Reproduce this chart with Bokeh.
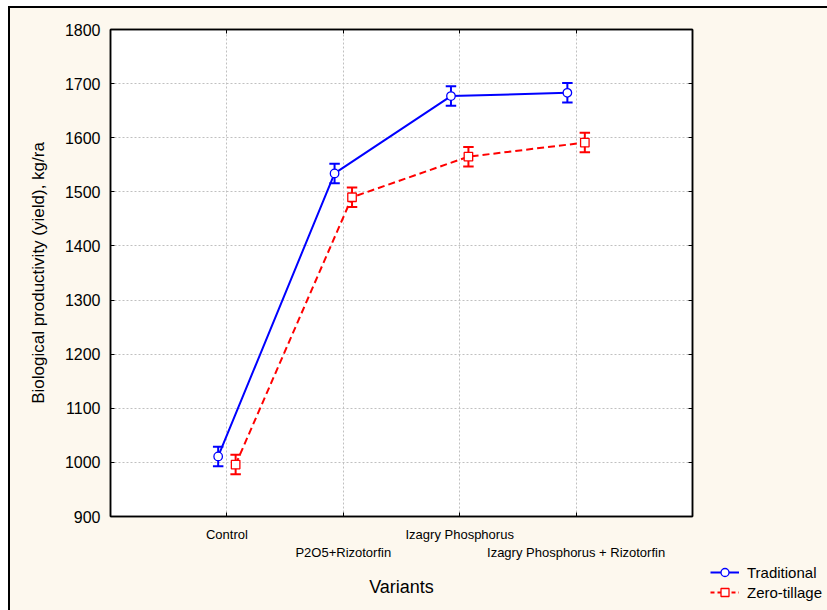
from bokeh.plotting import figure
from bokeh.models import (ColumnDataSource, FixedTicker, LinearAxis, Legend, LegendItem,
                          Range1d, Spacer)
from bokeh.layouts import row, column
from bokeh.embed import file_html
from bokeh.resources import INLINE

categories = ["Control", "P2O5+Rizotorfin", "Izagry Phosphorus", "Izagry Phosphorus + Rizotorfin"]
series_names = ["Traditional", "Zero-tillage"]
traditional = [1011, 1534, 1677, 1683]
traditional_err = [18, 18, 18, 18]
zero_tillage = [996, 1490, 1565, 1591]
zero_tillage_err = [18, 18, 18, 18]
y_ticks = [900, 1000, 1100, 1200, 1300, 1400, 1500, 1600, 1700, 1800]

FONT = "Liberation Sans"
BG = "#FDF8EE"
BLUE = "#0000ff"
RED = "#ff0000"
pos = list(range(1, len(categories) + 1))
OFF = 0.075
CAP = 0.045

p = figure(width=700, height=602, x_range=Range1d(0, 5), y_range=Range1d(900, 1800),
           output_backend="svg", toolbar_location=None,
           min_border_left=100, min_border_right=18, min_border_top=21, min_border_bottom=94,
           background_fill_color="white", border_fill_color=BG)
p.outline_line_color = "black"
p.outline_line_width = 1.5

p.xaxis.ticker = FixedTicker(ticks=pos)
p.xaxis.major_label_overrides = {i: (c if i % 2 == 1 else "\n" + c) for i, c in zip(pos, categories)}
p.yaxis.ticker = FixedTicker(ticks=y_ticks)
for ax in [p.xaxis[0], p.yaxis[0]]:
    ax.major_tick_in = 4
    ax.major_tick_out = 0
    ax.minor_tick_line_color = None
    ax.axis_line_color = "black"
    ax.axis_line_width = 1.5
    ax.major_tick_line_color = "black"
    ax.major_label_text_font = FONT
    ax.axis_label_text_font = FONT
    ax.axis_label_text_font_style = "normal"
    ax.major_label_text_color = "black"
    ax.axis_label_text_color = "black"
p.xaxis.major_label_text_font_size = "13px"
p.xaxis.major_label_standoff = 10
p.xaxis.axis_label = "Variants"
p.xaxis.axis_label_text_font_size = "18px"
p.xaxis.axis_label_standoff = 14
p.yaxis.major_label_text_font_size = "16px"
p.yaxis.major_label_standoff = 10
p.yaxis.axis_label = "Biological productivity (yield), kg/ra"
p.yaxis.axis_label_text_font_size = "17px"
p.yaxis.axis_label_standoff = 14

top = LinearAxis(ticker=FixedTicker(ticks=pos), major_tick_in=4, major_tick_out=0,
                 minor_tick_line_color=None, axis_line_width=1.5,
                 major_label_overrides={t: "" for t in pos})
right = LinearAxis(ticker=FixedTicker(ticks=y_ticks), major_tick_in=4, major_tick_out=0,
                   minor_tick_line_color=None, axis_line_width=1.5,
                   major_label_overrides={t: "" for t in y_ticks})
p.add_layout(top, "above")
p.add_layout(right, "right")

p.xgrid.ticker = FixedTicker(ticks=pos)
p.ygrid.ticker = FixedTicker(ticks=y_ticks)
for g in [p.xgrid[0], p.ygrid[0]]:
    g.grid_line_color = "#c0c0c0"
    g.grid_line_dash = "2 2"
    g.grid_line_width = 1


def make_source(vals, errs, offset):
    x = [i + offset for i in pos]
    lo = [v - e for v, e in zip(vals, errs)]
    hi = [v + e for v, e in zip(vals, errs)]
    return ColumnDataSource(dict(x=x, y=vals, lo=lo, hi=hi,
                                 xl=[xx - CAP for xx in x], xr=[xx + CAP for xx in x]))


def draw(src, color, dash, marker):
    p.line("x", "y", source=src, line_color=color, line_width=2, line_dash=dash)
    p.segment("x", "lo", "x", "hi", source=src, line_color=color, line_width=2)
    p.segment("xl", "lo", "xr", "lo", source=src, line_color=color, line_width=2)
    p.segment("xl", "hi", "xr", "hi", source=src, line_color=color, line_width=2)
    p.scatter("x", "y", source=src, marker=marker, size=8.5, line_color=color,
              line_width=1.3, fill_color="white")


src1 = make_source(traditional, traditional_err, -OFF)
src2 = make_source(zero_tillage, zero_tillage_err, OFF)
draw(src1, BLUE, "solid", "circle")
draw(src2, RED, "7 4", "square")

# legend in its own small panel, below and right of the plot frame;
# its glyph renderers use the series data, which lies outside this panel's ranges
lg = figure(width=117, height=48, x_range=Range1d(0, 1), y_range=Range1d(0, 1),
            output_backend="svg", toolbar_location=None, x_axis_location=None,
            y_axis_location=None, min_border=0, background_fill_color=BG,
            border_fill_color=BG, outline_line_color=None)
lg.grid.visible = False
a1 = lg.line("x", "y", source=src1, line_color=BLUE, line_width=2)
b1 = lg.scatter("x", "y", source=src1, marker="circle", size=8.5, line_color=BLUE,
                line_width=1.3, fill_color="white")
a2 = lg.line("x", "y", source=src2, line_color=RED, line_width=2, line_dash="4 3")
b2 = lg.scatter("x", "y", source=src2, marker="square", size=8.5, line_color=RED,
                line_width=1.3, fill_color="white")
legend = Legend(items=[LegendItem(label=series_names[0], renderers=[a1, b1]),
                       LegendItem(label=series_names[1], renderers=[a2, b2])],
                location="top_left", background_fill_alpha=0, border_line_color=None,
                label_text_font=FONT, label_text_font_size="15px", label_text_color="black",
                glyph_width=29, glyph_height=20, label_height=20, spacing=0, padding=0,
                margin=0, label_standoff=8)
lg.add_layout(legend, "center")

right_col = column(Spacer(height=554, width=117), lg)
inner = row(p, right_col)
inner.styles = {"background-color": BG, "border-top": "2px solid black",
                "border-left": "2px solid black"}
layout = row(Spacer(width=8), column(Spacer(height=6), inner))
open("out.html", "w").write(file_html(layout, INLINE))
